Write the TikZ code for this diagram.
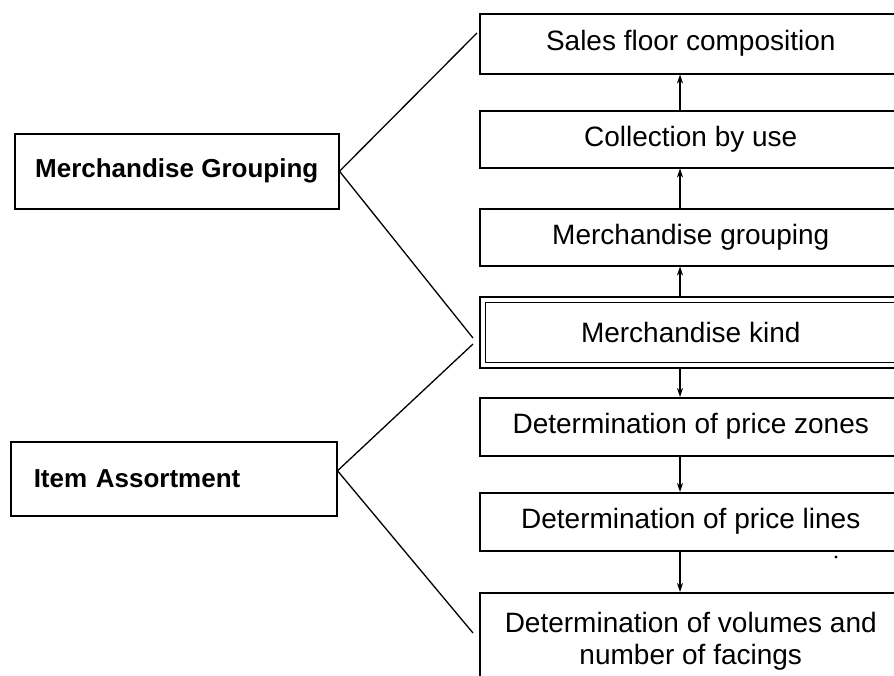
\documentclass[tikz,border=0pt]{standalone}
\usepackage{fontspec}
\setmainfont{Liberation Sans}
\usetikzlibrary{arrows.meta,calc}
\begin{document}
\begin{tikzpicture}[x=1pt,y=-1pt,
  rbox/.style={draw, line width=1.5pt, rectangle, anchor=north west, minimum width=422pt, inner sep=0pt, font=\fontsize{28}{32}\selectfont},
  lbox/.style={draw, line width=1.5pt, rectangle, anchor=north west, inner sep=0pt, font=\bfseries\fontsize{26}{30}\selectfont},
  conn/.style={line width=1.3pt},
  arr/.style={line width=1.4pt, -{Stealth[length=9pt,width=6pt]}}]
\path[use as bounding box, clip] (0,0) rectangle (894,675);
\fill[white] (0,0) rectangle (894,675);
% right column
\node[rbox, minimum height=60pt] (sales) at (479,13) {Sales floor composition};
\node[rbox, minimum height=57pt] (coll) at (479,110) {Collection by use};
\node[rbox, minimum height=57pt] (mgrp) at (479,208) {Merchandise grouping};
\node[rbox, double, double distance=4pt, minimum width=416pt, minimum height=65.5pt] (kind) at (482,299) {Merchandise kind};
\node[rbox, minimum height=58pt] (zones) at (479,397) {Determination of price zones};
\node[rbox, minimum height=58pt] (lines) at (479,492) {Determination of price lines};
\node[rbox, minimum height=98pt, align=center] (vol) at (479,592) {Determination of volumes and\\number of facings};
% left boxes
\node[lbox, minimum width=324pt, minimum height=75pt] (mg) at (14,133) {Merchandise Grouping};
\node[lbox, text width=280pt, align=left, inner xsep=23pt, minimum height=74pt] (ia) at (10,441) {Item Assortment};
% arrows
\coordinate (ax) at (680,0);
\draw[arr] (coll.north -| ax) -- (sales.south -| ax);
\draw[arr] (mgrp.north -| ax) -- (coll.south -| ax);
\draw[arr] ([yshift=2.75pt]kind.north -| ax) -- (mgrp.south -| ax);
\draw[arr] ([yshift=-2.75pt]kind.south -| ax) -- (zones.north -| ax);
\draw[arr] (zones.south -| ax) -- (lines.north -| ax);
\draw[arr] (lines.south -| ax) -- (vol.north -| ax);
% connectors
\coordinate (p1) at (477,33);
\coordinate (p2) at (473,338);
\coordinate (p3) at (473,344);
\coordinate (p4) at (473,633);
\draw[conn] (mg.east) -- (p1);
\draw[conn] (mg.east) -- (p2);
\draw[conn] ([yshift=8pt]ia.east) -- (p3);
\draw[conn] ([yshift=8pt]ia.east) -- (p4);
\fill (836,557) circle (1.6pt);
\end{tikzpicture}
\end{document}
